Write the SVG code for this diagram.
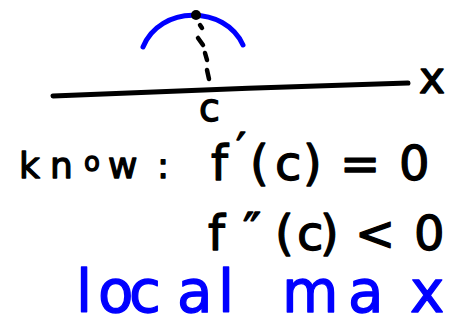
<svg xmlns="http://www.w3.org/2000/svg" width="465" height="326" viewBox="0 0 465 326">
<style>
.ink{fill:#000;stroke:#000;stroke-width:1.3;stroke-linejoin:round;font-family:"DejaVu Sans",sans-serif}
.blue{fill:#0000ff;stroke:#0000ff;stroke-width:1.3;stroke-linejoin:round;font-family:"DejaVu Sans",sans-serif}
.line{fill:none;stroke-linecap:round;stroke-linejoin:round}
</style>
<rect width="465" height="326" fill="#fff"/>
<g id="curve">
<path class="line" d="M143,47 C160,5 225,5 243,45" stroke="#0000ff" stroke-width="5"/>
<circle cx="196" cy="15" r="5" fill="#000"/>
</g>
<g id="axis">
<path class="line" d="M53,96 C150,92 300,86 408,83" stroke="#000" stroke-width="5"/>
<text class="ink" x="419" y="93" font-size="44">x</text>
</g>
<g id="connectors">
<path class="line" stroke="#000" stroke-width="4.5" d="M200,25 L202,28 M198,38 L203,45 M205,53 L207,60 M207,70 L209,79"/>
</g>
<g id="label-c">
<text class="ink" x="199" y="121" font-size="38">c</text>
</g>
<g id="line1">
<text class="ink" y="178" font-size="36"><tspan x="19">k</tspan><tspan x="50">n</tspan><tspan x="84" y="171" font-size="26">o</tspan><tspan x="108" y="178">w</tspan><tspan> </tspan><tspan x="157">:</tspan></text>
<text class="ink" x="211" y="180" font-size="48">f</text>
<text class="ink" x="236" y="165" font-size="44">′</text>
<text class="ink" x="250 275 303 320 340 380 399" y="180" font-size="48">(c) = 0</text>
</g>
<g id="line2">
<text class="ink" x="208 243 275 297 320 335 355 395 414" y="250 247 250 250 250 250 250 250 250" font-size="48">f″(c) &lt; 0</text>
</g>
<g id="line3">
<text class="blue" x="76 98 129 177 218 250 282 348 410" y="312" font-size="58">local max</text>
</g>
</svg>
